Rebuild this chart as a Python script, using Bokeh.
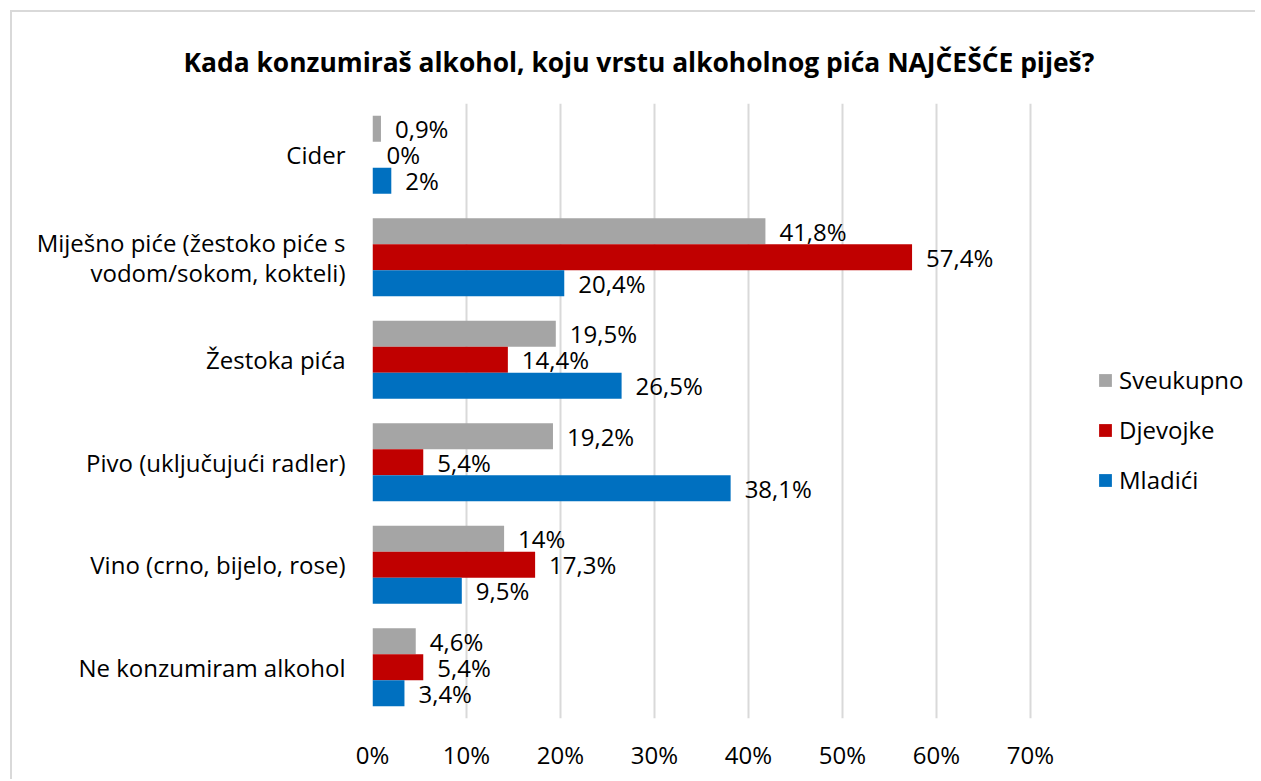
from bokeh.plotting import figure
from bokeh.models import (ColumnDataSource, Range1d, FixedTicker, Legend, LegendItem)
from bokeh.transform import dodge
from bokeh.core.properties import value
from bokeh.embed import file_html
from bokeh.resources import INLINE

categories = ["Cider",
              "Miješno piće (žestoko piće s\nvodom/sokom, kokteli)",
              "Žestoka pića",
              "Pivo (uključujući radler)",
              "Vino (crno, bijelo, rose)",
              "Ne konzumiram alkohol"]
series_names = ["Sveukupno", "Djevojke", "Mladići"]
sveukupno = [0.9, 41.8, 19.5, 19.2, 14, 4.6]
djevojke = [0, 57.4, 14.4, 5.4, 17.3, 5.4]
mladici = [2, 20.4, 26.5, 38.1, 9.5, 3.4]
colors = ["#A5A5A5", "#C00000", "#0070C0"]
x_ticks = [0, 10, 20, 30, 40, 50, 60, 70]
title_text = "Kada konzumiraš alkohol, koju vrstu alkoholnog pića NAJČEŠĆE piješ?"

FONT = "Open Sans"
ORIG = 12             # canvas origin on page
W, H = 1257 - ORIG, 781 - ORIG
LEFT = 372 - ORIG     # frame left
TOP = 103 - ORIG      # frame top
BOTTOM = 781 - 718    # below-frame space
PX_PER_PCT = 9.4

def fmt(v):
    if float(v).is_integer():
        return f"{int(v)}%"
    return f"{v:.1f}".replace(".", ",") + "%"

p = figure(width=W, height=H, output_backend="svg", toolbar_location=None,
           x_range=Range1d(0, (W - LEFT) / PX_PER_PCT), y_range=Range1d(5.5, -0.5),
           min_border_left=LEFT, min_border_right=0, min_border_top=TOP,
           min_border_bottom=BOTTOM)
p.margin = (ORIG, 0, 0, ORIG)
p.styles = {"box-shadow": "-2px -2px 0 0 #D9D9D9"}

p.outline_line_color = None
p.background_fill_color = "white"
p.border_fill_color = "white"

p.title.text = title_text
p.title.align = "left"
p.title.offset = 171 - LEFT
p.title.standoff = 48
p.title.text_font = FONT
p.title.text_font_style = "bold"
p.title.text_font_size = "26.4px"
p.title.text_color = "#000000"

p.xgrid.ticker = FixedTicker(ticks=x_ticks)
p.xgrid.grid_line_color = "#D9D9D9"
p.xgrid.grid_line_width = 2
p.ygrid.grid_line_color = None

p.xaxis.ticker = FixedTicker(ticks=x_ticks)
p.xaxis.major_label_overrides = {t: f"{t}%" for t in x_ticks}
p.xaxis.axis_line_color = None
p.xaxis.major_tick_line_color = None
p.xaxis.minor_tick_line_color = None
p.xaxis.major_tick_out = 0
p.xaxis.major_label_standoff = 19
p.xaxis.major_label_text_font = FONT
p.xaxis.major_label_text_font_size = "24px"
p.xaxis.major_label_text_color = "#000000"

idx = list(range(len(categories)))
p.yaxis.ticker = FixedTicker(ticks=idx)
p.yaxis.major_label_overrides = {i: c for i, c in zip(idx, categories)}
p.yaxis.axis_line_color = None
p.yaxis.major_tick_line_color = None
p.yaxis.minor_tick_line_color = None
p.yaxis.major_tick_out = 0
p.yaxis.major_label_standoff = 27
p.yaxis.major_label_text_font = FONT
p.yaxis.major_label_text_font_size = "24px"
p.yaxis.major_label_text_line_height = 0.9
p.yaxis.major_label_text_color = "#000000"

bar_h = 0.254
offsets = [-bar_h, 0, bar_h]
items = []
for name, vals, col, off in zip(series_names, [sveukupno, djevojke, mladici], colors, offsets):
    src = ColumnDataSource(dict(idx=idx, v=vals, lab=[fmt(v) for v in vals]))
    r = p.hbar(y=dodge("idx", off, range=p.y_range), left=0, right="v", height=bar_h,
               source=src, fill_color=col, line_color=None)
    p.text(x="v", y=dodge("idx", off, range=p.y_range), text="lab", source=src,
           x_offset=14, text_baseline="middle", text_align="left",
           text_font=value(FONT), text_font_size="24px", text_color="#000000")
    items.append(LegendItem(label=name, renderers=[r]))

legend = Legend(items=items, location=(725, 222), orientation="vertical",
                glyph_width=16, glyph_height=16, label_height=28, spacing=17,
                padding=0, margin=0, label_standoff=6,
                label_text_font=FONT, label_text_font_size="24px",
                label_text_color="#000000",
                background_fill_alpha=0, border_line_color=None)
p.add_layout(legend)

open("out.html", "w").write(file_html(p, INLINE))
